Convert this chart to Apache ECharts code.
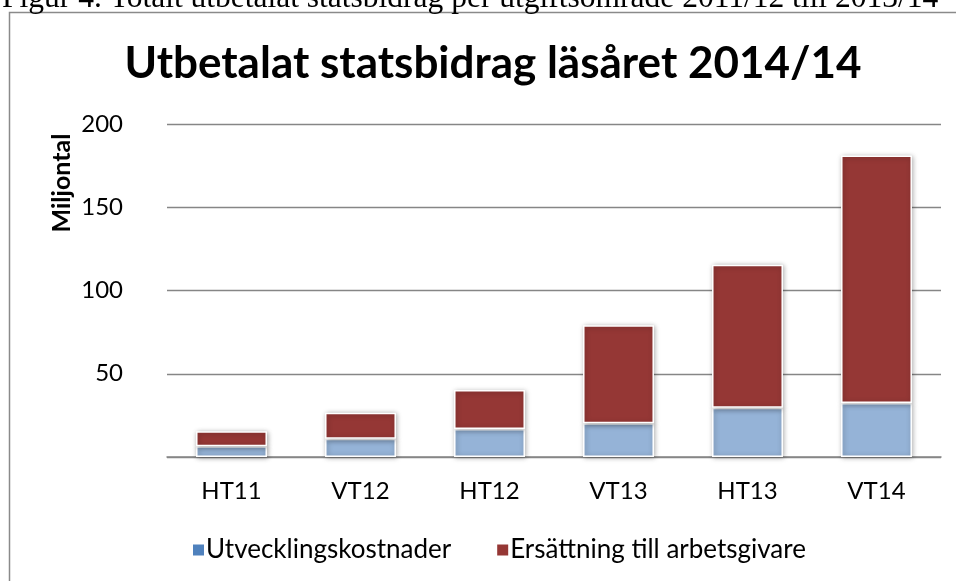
<!DOCTYPE html>
<html>
<head>
<meta charset="utf-8">
<script src="https://cdn.jsdelivr.net/npm/echarts@6/dist/echarts.min.js"></script>
<style>html,body{margin:0;padding:0;background:#fff}#c{width:956px;height:581px}</style>
</head>
<body>
<div id="c"></div>
<script>
const categories = ['HT11', 'VT12', 'HT12', 'VT13', 'HT13', 'VT14'];
const utveckling = [6.4, 11.0, 16.8, 20.2, 29.6, 32.4];
const ersattning = [9.0, 15.6, 23.5, 58.9, 85.9, 148.7];
const seriesNames = ['Utvecklingskostnader', 'Ersättning till arbetsgivare'];
const yTicks = { min: 0, max: 200, interval: 50 };
const titleText = 'Utbetalat statsbidrag läsåret 2014/14';
const captionText = 'Figur 4. Totalt utbetalat statsbidrag per utgiftsområde 2011/12 till 2013/14';
const yAxisName = 'Miljontal';

const chart = echarts.init(document.getElementById('c'));
const barStyle = (color) => ({
  color: color,
  borderColor: '#ffffff',
  borderWidth: 1.5,
  shadowBlur: 5,
  shadowColor: 'rgba(0,0,0,0.35)',
  shadowOffsetX: 1,
  shadowOffsetY: 1
});
chart.setOption({
  animation: false,
  backgroundColor: '#ffffff',
  title: {
    text: titleText,
    left: 488,
    textAlign: 'center',
    top: 37,
    textStyle: { fontFamily: 'Lato', fontWeight: 'bold', fontSize: 44, color: '#000' }
  },
  graphic: [
    {
      type: 'rect',
      shape: { x: 9.5, y: 12.5, width: 1000, height: 700 },
      style: { fill: 'none', stroke: '#8a8a8a', lineWidth: 1.5 },
      silent: true
    },
    {
      type: 'text',
      x: 2,
      y: 15,
      style: {
        text: captionText,
        font: '31.5px "Liberation Serif"',
        fill: '#000',
        verticalAlign: 'bottom',
        align: 'left'
      }
    },
    {
      type: 'text',
      x: 62,
      y: 183,
      rotation: Math.PI / 2,
      style: {
        text: yAxisName,
        font: 'bold 25px Lato',
        fill: '#000',
        align: 'center',
        verticalAlign: 'middle'
      }
    }
  ],
  legend: {
    left: 188,
    top: 532,
    itemWidth: 11,
    itemHeight: 11,
    itemGap: 46,
    icon: 'rect',
    textStyle: { fontFamily: 'Lato', fontSize: 26, color: '#000', padding: [0, 0, 0, -3] },
    data: [
      { name: seriesNames[0], itemStyle: { color: '#4F81BD', borderWidth: 0, shadowBlur: 0 } },
      { name: seriesNames[1], itemStyle: { color: '#953735', borderWidth: 0, shadowBlur: 0 } }
    ]
  },
  grid: { left: 167, right: 15, top: 124, bottom: 124, containLabel: false },
  xAxis: {
    type: 'category',
    data: categories,
    axisLine: { lineStyle: { color: '#868686', width: 1.5 } },
    axisTick: { show: false },
    axisLabel: { margin: 22, fontFamily: 'Lato', fontSize: 24, color: '#000' }
  },
  yAxis: {
    type: 'value',
    min: yTicks.min,
    max: yTicks.max,
    interval: yTicks.interval,
    axisLine: { show: false },
    axisTick: { show: false },
    splitLine: { lineStyle: { color: '#868686', width: 1.3 } },
    axisLabel: {
      margin: 44,
      fontFamily: 'Lato',
      fontSize: 24,
      color: '#000',
      formatter: (v) => (v === 0 ? '' : String(v))
    }
  },
  series: [
    { name: seriesNames[0], type: 'bar', stack: 'a', barWidth: '55%', data: utveckling, itemStyle: barStyle('#95B3D7') },
    { name: seriesNames[1], type: 'bar', stack: 'a', barWidth: '55%', data: ersattning, itemStyle: barStyle('#953735') }
  ]
});
</script>
</body>
</html>
